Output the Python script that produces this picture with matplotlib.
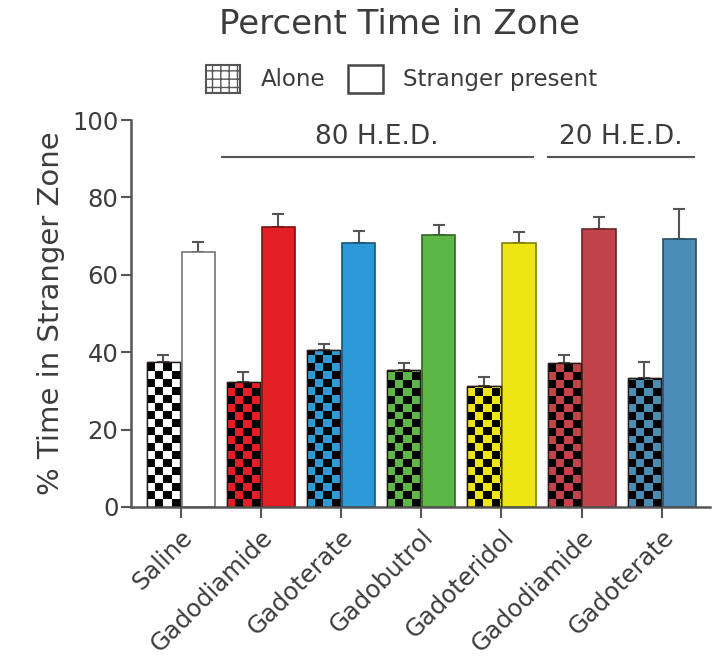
import numpy as np
import matplotlib.pyplot as plt
from matplotlib.patches import Patch
from matplotlib.colors import to_rgb

plt.rcParams['font.family'] = ['DejaVu Sans']

drugs = ["Saline", "Gadodiamide", "Gadoterate", "Gadobutrol", "Gadoteridol", "Gadodiamide", "Gadoterate"]
alone = [37.5, 32.3, 40.6, 35.3, 31.2, 37.2, 33.3]
alone_err = [1.8, 2.6, 1.5, 2.0, 2.4, 2.1, 4.2]
stranger = [65.9, 72.3, 68.3, 70.4, 68.2, 71.8, 69.2]
stranger_err = [2.6, 3.5, 2.9, 2.4, 2.9, 3.1, 7.8]
colors = ["#ffffff", "#e31e24", "#2b9bd8", "#5cb746", "#ede614", "#c2434a", "#4a8cb4"]
gray = "#555555"
txt = "#3c3c3c"

def darker(c, f=0.55):
    return tuple(np.array(to_rgb(c)) * f)

edges = ["#777777"] + [darker(c) for c in colors[1:]]

fig = plt.figure(figsize=(7.2, 6.67), dpi=100)
ax = fig.add_axes([0.182, 0.24, 0.804, 0.58])

x = np.arange(len(drugs))
w = 0.415
a_bars = ax.bar(x - w / 2 - 0.01, alone, w, color=colors, edgecolor="#2a1a1a", linewidth=1.0, zorder=2)
s_bars = ax.bar(x + w / 2 + 0.01, stranger, w, color=colors, edgecolor=edges, linewidth=1.2, zorder=2)
ax.errorbar(x - w / 2 - 0.01, alone, yerr=[np.zeros(len(x)), alone_err], fmt='none',
            ecolor=gray, elinewidth=1.5, capsize=4, capthick=1.5, zorder=1)
ax.errorbar(x + w / 2 + 0.01, stranger, yerr=[np.zeros(len(x)), stranger_err], fmt='none',
            ecolor=gray, elinewidth=1.5, capsize=4, capthick=1.5, zorder=1)

# checkerboard fill for the "alone" bars
dx, dy = 0.1, 2.05
for bar, c in zip(a_bars, colors):
    x0 = bar.get_x()
    h = bar.get_height()
    bw = bar.get_width()
    nc = int(np.ceil(bw / dx))
    nr = int(np.ceil(h / dy))
    rgb = np.array(to_rgb(c))
    img = np.zeros((nr, nc, 3))
    for r in range(nr):
        for k in range(nc):
            img[nr - 1 - r, k] = rgb if (r + k) % 2 == 0 else (0, 0, 0)
    im = ax.imshow(img, extent=(x0, x0 + nc * dx, 0, nr * dy), aspect='auto',
                   interpolation='nearest', zorder=2.5)
    im.set_clip_path(bar)
    ax.add_patch(plt.Rectangle((x0, 0), bw, h, fill=False, edgecolor="#2a1a1a", lw=1.0, zorder=3))

ax.set_xlim(-0.62, 6.6)
ax.set_ylim(0, 100)
ax.set_yticks([0, 20, 40, 60, 80, 100])
ax.set_yticklabels(["0", "20", "40", "60", "80", "100"], fontsize=17.5, color=txt)
ax.set_xticks(x)
ax.set_xticklabels(drugs, rotation=45, ha='right', rotation_mode='anchor', fontsize=17.5, color=txt)
ax.tick_params(axis='y', length=7, width=1.5, color=gray, pad=2)
ax.tick_params(axis='x', length=8, width=1.5, color=gray, pad=5)
for s in ['top', 'right']:
    ax.spines[s].set_visible(False)
for s in ['left', 'bottom']:
    ax.spines[s].set_color(gray)
    ax.spines[s].set_linewidth(1.8)
ax.set_ylabel("% Time in Stranger Zone", fontsize=21, color=txt, labelpad=5)

# group brackets
ax.plot([0.51, 4.39], [90.5, 90.5], color=gray, lw=1.5, clip_on=False)
ax.text(2.45, 92.3, "80 H.E.D.", ha='center', va='bottom', fontsize=19, color=txt)
ax.plot([4.58, 6.4], [90.5, 90.5], color=gray, lw=1.5, clip_on=False)
ax.text(5.49, 92.3, "20 H.E.D.", ha='center', va='bottom', fontsize=19, color=txt)

fig.text(0.555, 0.963, "Percent Time in Zone", ha='center', va='center', fontsize=24.5, color=txt)
handles = [Patch(facecolor='white', edgecolor='#555555', hatch='++', lw=1.5),
           Patch(facecolor='white', edgecolor='#444444', lw=1.8)]
fig.legend(handles, ["Alone", "Stranger present"], loc='center', bbox_to_anchor=(0.558, 0.882),
           ncol=2, frameon=False, fontsize=16.5, handlelength=1.5, handleheight=1.5,
           columnspacing=1.0, handletextpad=0.9, labelcolor=txt)

fig.savefig("out.png", dpi=100)
